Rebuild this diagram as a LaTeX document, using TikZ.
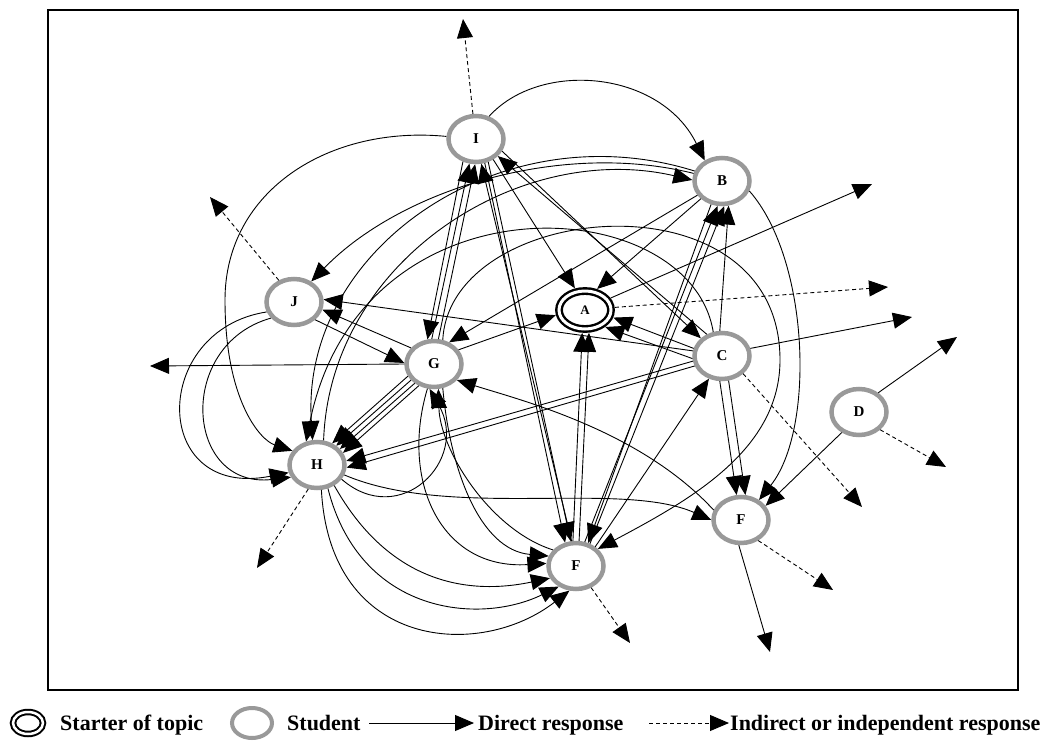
\documentclass[tikz,border=0pt]{standalone}
\usepackage{fontspec}
\setmainfont{Liberation Serif}
\usetikzlibrary{arrows.meta,shapes.geometric}
\begin{document}
\begin{tikzpicture}[x=1pt,y=-1pt,
  student/.style={ellipse, draw=black!40, line width=4.5pt, minimum width=55pt,
    minimum height=46pt, inner sep=0pt, font=\fontsize{15}{15}\selectfont\bfseries},
  starter/.style={ellipse, draw=black, line width=2.4pt, double=white, double distance=3pt,
    minimum width=52pt, minimum height=38pt, inner sep=0pt, outer sep=4pt,
    font=\fontsize{13}{13}\selectfont\bfseries},
  edge/.style={draw, line width=0.9pt, -{Triangle[length=19pt,width=16pt]}},
  dedge/.style={edge, dash pattern=on 4pt off 3pt},
  legtext/.style={anchor=base west, inner sep=0pt, font=\fontsize{22}{22}\selectfont\bfseries},
]
\useasboundingbox (0,0) rectangle (1047,747);
\draw[line width=1.5pt] (48,10) rectangle (1018,690);

% participants
\node[student] (I) at (476,139) {I};
\node[student] (B) at (722,181) {B};
\node[starter] (A) at (585,310) {A};
\node[student] (J) at (294,302) {J};
\node[student] (G) at (434,364) {G};
\node[student] (C) at (722,356) {C};
\node[student] (D) at (859,412) {D};
\node[student] (H) at (317,465) {H};
\node[student] (E) at (741,520) {F};
\node[student] (F) at (576,566) {F};

% loose ends of responses addressed to nobody
\coordinate (tI) at (463,19);
\coordinate (tJ) at (210,197);
\coordinate (tG) at (150,366);
\coordinate (tA1) at (872,184);
\coordinate (tA2) at (888,287);
\coordinate (tC1) at (912,317);
\coordinate (tC2) at (862,507);
\coordinate (tD1) at (957,337);
\coordinate (tD2) at (946,467);
\coordinate (tE1) at (833,590);
\coordinate (tE2) at (770,652);
\coordinate (tF) at (630,643);
\coordinate (tH) at (257,568);

\draw[dedge] (I.97) -- (tI);
\draw[dedge] (J.125) -- (tJ);
\draw[edge] (G.west) -- (tG);
\draw[edge] (A.25) -- (tA1);
\draw[dedge] (A.5) -- (tA2);
\draw[edge] (C.15) -- (tC1);
\draw[dedge] (C.-40) -- (tC2);
\draw[edge] (D.45) -- (tD1);
\draw[dedge] (D.-40) -- (tD2);
\draw[dedge] (E.-50) -- (tE1);
\draw[edge] (E.-95) -- (tE2);
\draw[dedge] (F.-55) -- (tF);
\draw[dedge] (H.-110) -- (tH);

% straight responses
\draw[edge] (I.-50) -- (A.115);
\draw[edge] (B.-140) -- (A.60);
\draw[edge] (I.-25) -- (C.140);
\draw[edge] (C.125) -- (I.-38);
\draw[edge] (C.165) -- (A.-15);
\draw[edge] (C.185) -- (A.-40);
\draw[edge] (G.30) -- (A.190);
\draw[edge] (F.97) -- (A.-97);
\draw[edge] (F.83) -- (A.-80);
\draw[edge] (C.170) -- (J.5);
\draw[edge] (J.-40) -- (G.178);
\draw[edge] (G.145) -- (J.-15);
\draw[edge] (B.-150) -- (G.55);
\draw[edge] (G.205) -- (H.55);
\draw[edge] (G.215) -- (H.45);
\draw[edge] (G.225) -- (H.35);
\draw[edge] (G.235) -- (H.25);
\draw[edge] (C.190) -- (H.8);
\draw[edge] (C.200) -- (H.-5);
\draw[edge] (I.-120) -- (G.105);
\draw[edge] (G.95) -- (I.-105);
\draw[edge] (G.80) -- (I.-92);
\draw[edge] (F.100) -- (I.-78);
\draw[edge] (I.-70) -- (F.115);
\draw[edge] (I.-62) -- (F.102);
\draw[edge] (B.-115) -- (F.62);
\draw[edge] (F.70) -- (B.-100);
\draw[edge] (F.58) -- (B.-85);
\draw[edge] (F.45) -- (C.-120);
\draw[edge] (C.95) -- (B.-75);
\draw[edge] (C.-95) -- (E.100);
\draw[edge] (C.-75) -- (E.80);
\draw[edge] (D.-130) -- (E.30);

% curved responses
\draw[edge] (I.60) .. controls (540,60) and (660,70) .. (B.130);
\draw[edge] (I.175) .. controls (330,125) and (225,190) .. (225,300)
  .. controls (225,400) and (260,440) .. (H.150);
\draw[edge] (J.200) .. controls (150,330) and (150,500) .. (H.195);
\draw[edge] (J.215) .. controls (175,345) and (185,490) .. (H.205);
\draw[edge] (B.165) .. controls (560,140) and (400,190) .. (J.50);
\draw[edge] (H.75) .. controls (330,260) and (520,140) .. (B.178);
\draw[edge] (B.160) .. controls (500,110) and (300,250) .. (H.100);
\draw[edge] (C.110) .. controls (690,190) and (360,170) .. (H.115);
\draw[edge] (G.70) .. controls (450,200) and (780,170) .. (780,360)
  .. controls (780,450) and (690,500) .. (F.38);
\draw[edge] (H.-20) .. controls (450,520) and (620,480) .. (E.180);
\draw[edge] (H.-80) .. controls (330,650) and (480,660) .. (F.-105);
\draw[edge] (H.-65) .. controls (360,615) and (480,625) .. (F.-130);
\draw[edge] (H.-50) .. controls (390,585) and (470,595) .. (F.-155);
\draw[edge] (G.-105) .. controls (400,480) and (440,570) .. (F.175);
\draw[edge] (G.-70) .. controls (450,470) and (480,550) .. (F.160);
\draw[edge] (H.-30) .. controls (400,530) and (470,460) .. (G.-100);
\draw[edge] (F.145) .. controls (490,530) and (440,450) .. (G.-80);
\draw[edge] (E.160) .. controls (640,430) and (520,400) .. (G.-35);
\draw[edge] (B.-20) .. controls (810,260) and (815,430) .. (E.48);

% legend
\node[starter, minimum width=30pt, minimum height=22pt, line width=2pt,
  double distance=2.5pt] (lA) at (28,723) {};
\node[legtext] (lAt) at (60,730) {Starter of topic};
\node[student, minimum width=40pt, minimum height=30pt, line width=4pt] (lS) at (252,723) {};
\node[legtext] (lSt) at (287,730) {Student};
\coordinate (ld1) at (369,723);
\coordinate (ld2) at (474,723);
\draw[edge] (ld1) -- (ld2);
\node[legtext] (ldt) at (478,730) {Direct response};
\coordinate (li1) at (649,723);
\coordinate (li2) at (729,723);
\draw[dedge] (li1) -- (li2);
\node[legtext] (lit) at (730,730) {Indirect or independent response};
\end{tikzpicture}
\end{document}
